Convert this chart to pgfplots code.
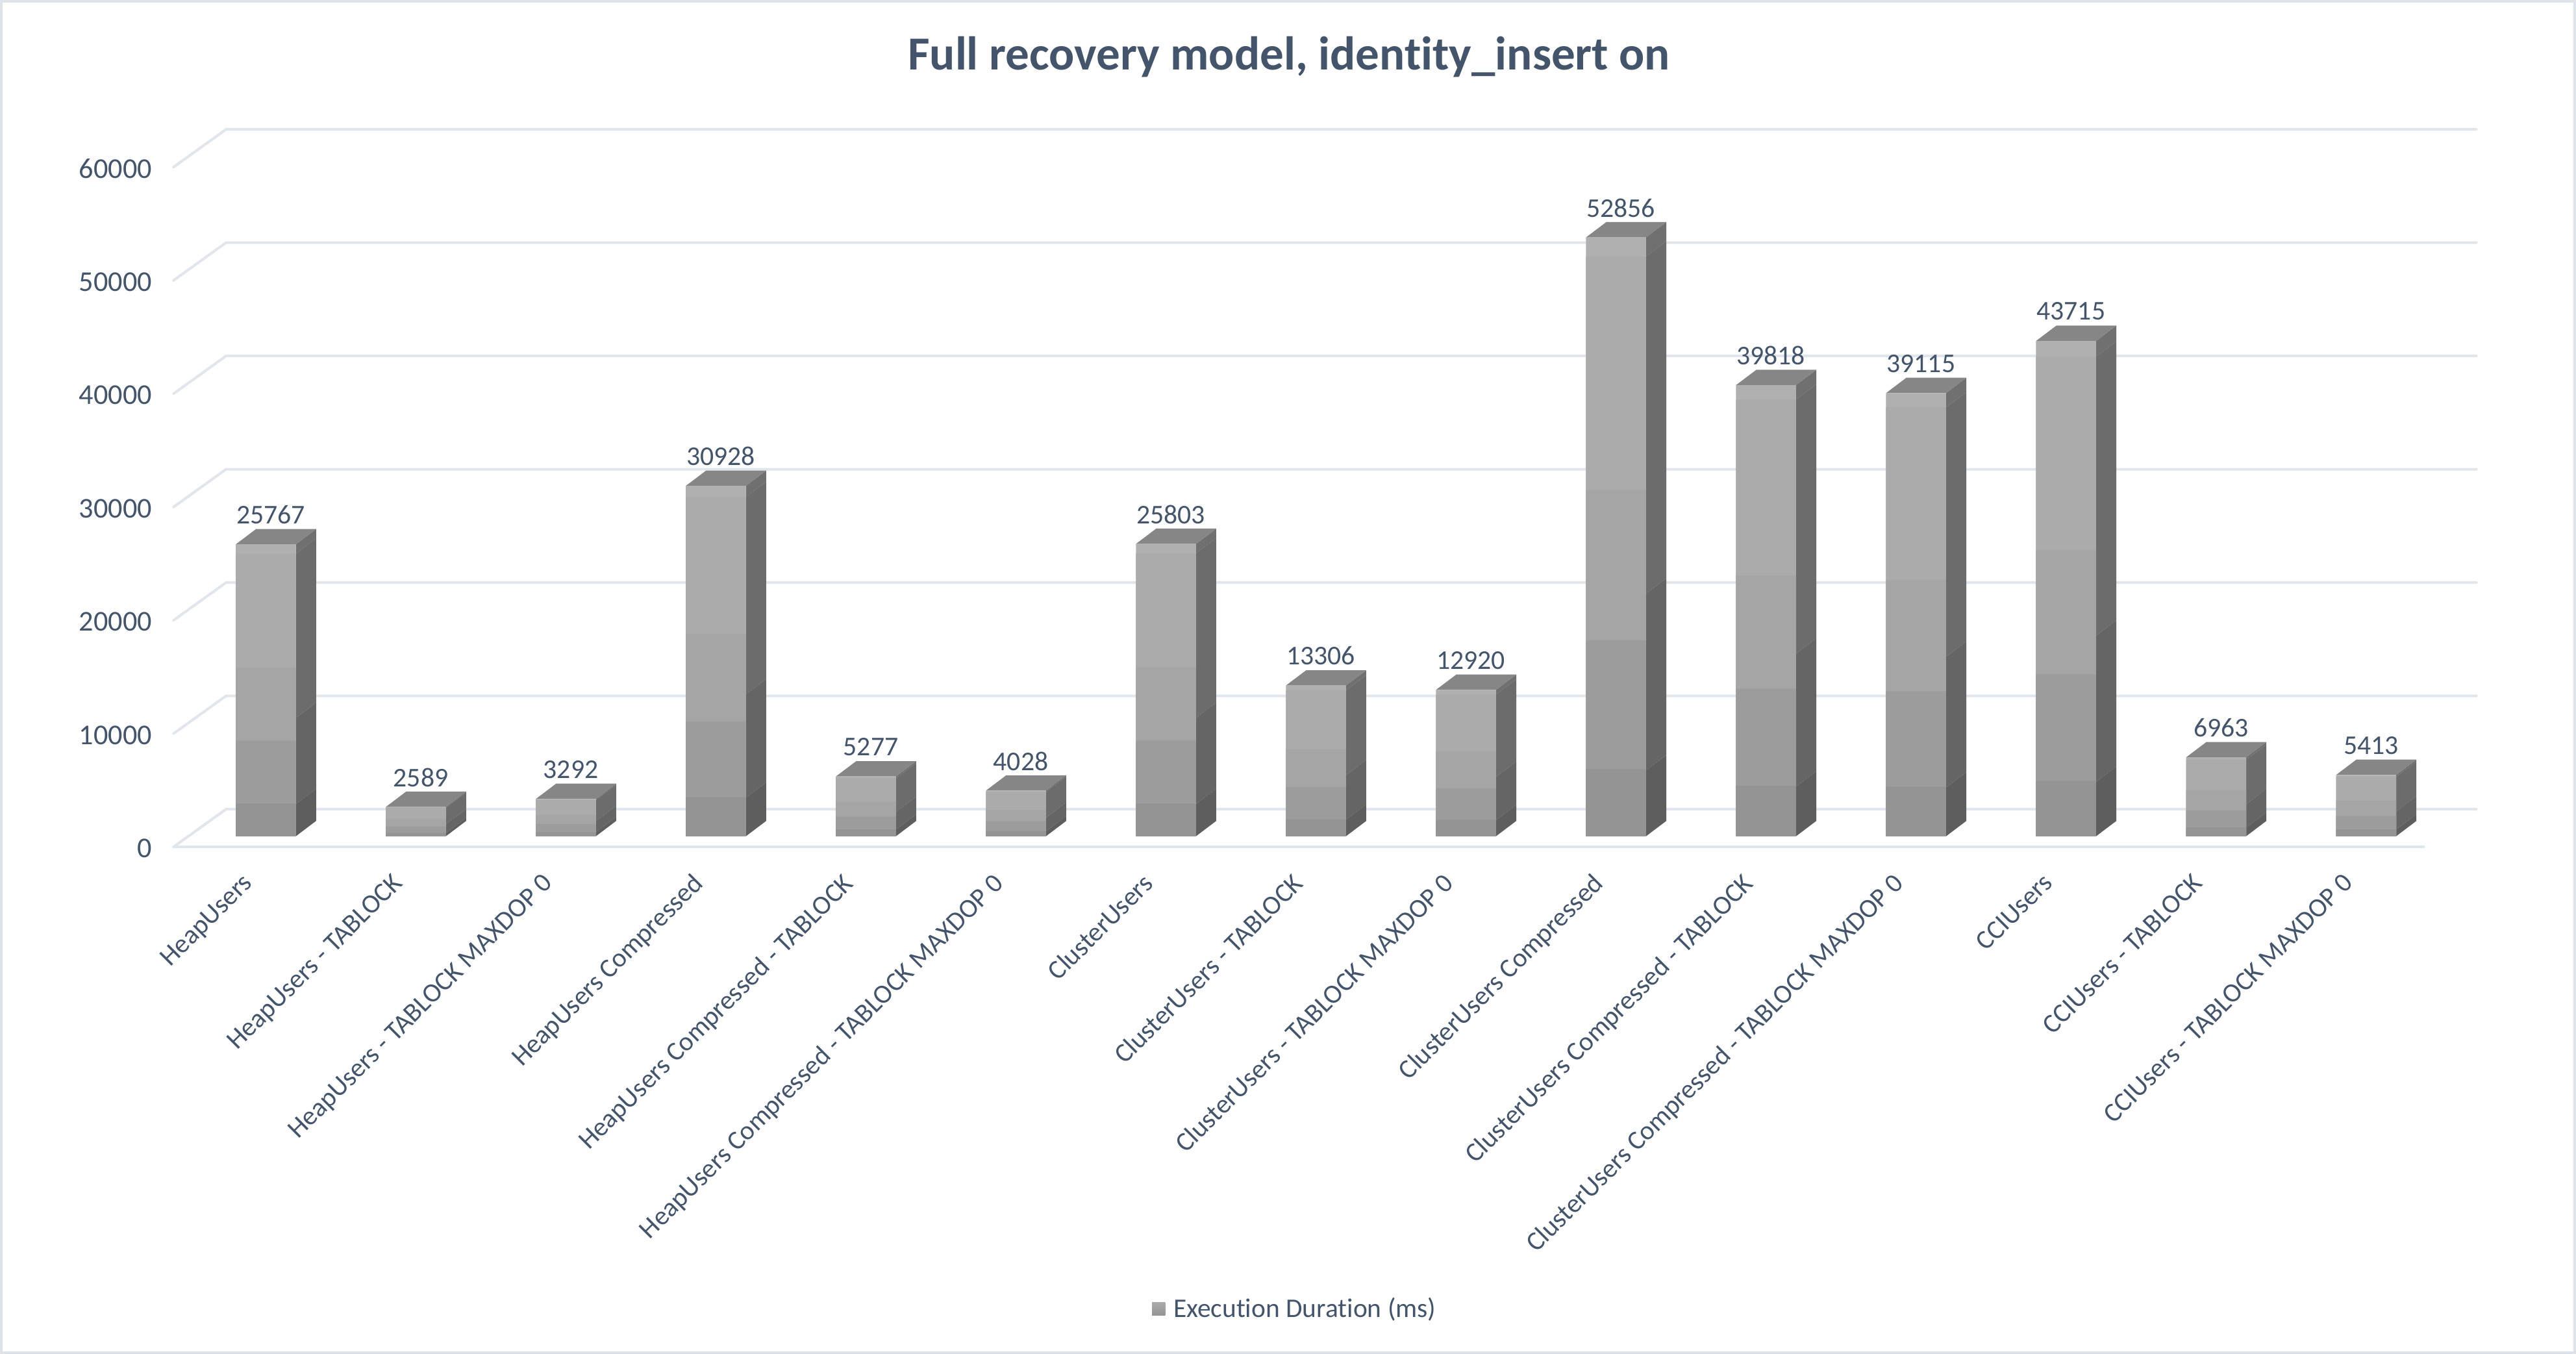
\documentclass[border=0pt]{standalone}
\usepackage{pgfplots}
\usepackage{pgfplotstable}
\usepackage{fontspec}
\setmainfont[Ligatures=NoCommon]{Carlito}
\pgfplotsset{compat=1.18}
\definecolor{txt}{HTML}{44546A}
\definecolor{gridc}{HTML}{E1E5EC}
\definecolor{framec}{HTML}{DEE3EA}
\definecolor{sidea}{HTML}{5E5E5E}
\definecolor{sideb}{HTML}{656565}
\definecolor{sidec}{HTML}{6C6C6C}
\definecolor{sided}{HTML}{707070}
\definecolor{topc}{HTML}{868686}
\definecolor{fronta}{HTML}{949494}
\definecolor{frontb}{HTML}{9C9C9C}
\definecolor{frontc}{HTML}{A5A5A5}
\definecolor{frontd}{HTML}{ABABAB}
\definecolor{fronte}{HTML}{B0B0B0}

% execution duration per category, x is the middle of the front face
\pgfplotstableread{
x v
0.615 25767
1.615 2589
2.615 3292
3.615 30928
4.615 5277
5.615 4028
6.615 25803
7.615 13306
8.615 12920
9.615 52856
10.615 39818
11.615 39115
12.615 43715
13.615 6963
14.615 5413
}\durations

% depth of a bar, in axis units
\def\bdx{0.135}
\def\bdy{1350}

\newcommand\sideface[4]{% x, from, to, colour
  \edef\xa{\fpeval{#1+0.2}}
  \edef\xb{\fpeval{#1+0.2+\bdx}}
  \edef\ya{\fpeval{#2}}
  \edef\yb{\fpeval{#3}}
  \edef\yc{\fpeval{#2+\bdy}}
  \edef\yd{\fpeval{#3+\bdy}}
  \addplot[fill=#4,draw=none,forget plot] coordinates {(\xa,\ya) (\xb,\yc) (\xb,\yd) (\xa,\yb)};
}

\begin{document}
\begin{tikzpicture}
\begin{axis}[
  scale only axis,
  width=1568pt,height=823.3pt,
  xmin=-1.1488,xmax=16.006,
  ymin=-45575,ymax=73700,
  clip=false,
  axis line style={color=framec,line width=1.5pt},
  major tick length=0pt,
  scaled y ticks=false,
  ytick={-940,9060,19060,29060,39060,49060,59060},
  yticklabels={0,10000,20000,30000,40000,50000,60000},
  yticklabel style={font=\fontsize{17.5}{18}\selectfont,color=txt,anchor=east,inner sep=0pt,xshift=92pt,yshift=-1pt},
  xtick={0.5,1.5,...,14.5},
  xticklabels={HeapUsers,HeapUsers - TABLOCK,HeapUsers - TABLOCK MAXDOP 0,HeapUsers Compressed,HeapUsers Compressed - TABLOCK,HeapUsers Compressed - TABLOCK MAXDOP 0,ClusterUsers,ClusterUsers - TABLOCK,ClusterUsers - TABLOCK MAXDOP 0,ClusterUsers Compressed,ClusterUsers Compressed - TABLOCK,ClusterUsers Compressed - TABLOCK MAXDOP 0,CCIUsers,CCIUsers - TABLOCK,CCIUsers - TABLOCK MAXDOP 0},
  xticklabel style={font=\fontsize{16.3}{18}\selectfont,color=txt,xshift=-4.5pt,yshift=293pt,rotate=45,anchor=north east,inner sep=0pt},
  /pgf/number format/.cd,fixed,set thousands separator={},assume math mode=true,
  /pgfplots/.cd,
  title={\textbf{Full recovery model, identity\_insert on}},
  title style={font=\fontsize{28.9}{30}\selectfont,color=txt,at={(axis description cs:0.5004,1)},anchor=center,yshift=-40pt},
  legend style={draw=none,fill=none,font=\fontsize{16.4}{18}\selectfont,text=txt,at={(axis description cs:0.5030,0.0325)},anchor=center,inner sep=0pt,legend cell align=left},
]
  % walls and floor
  \pgfplotsinvokeforeach{0,10000,20000,30000,40000,50000,60000}{
    \edef\ga{\fpeval{#1-940}}
    \edef\gb{\fpeval{#1+2390}}
    \addplot[color=gridc,line width=1.6pt,line cap=round,forget plot] coordinates {(0,\ga) (0.35,\gb) (15.35,\gb)};
  }
  \addplot[color=gridc,line width=1.6pt,line cap=round,forget plot] coordinates {(0,-940) (15,-940)};

  % side and top of each bar
  \pgfplotsinvokeforeach{0,...,14}{
    \pgfplotstablegetelem{#1}{x}\of\durations\edef\bx{\pgfplotsretval}
    \pgfplotstablegetelem{#1}{v}\of\durations\edef\bv{\pgfplotsretval}
    \edef\vb{\fpeval{\bv*0.11}}
    \edef\vc{\fpeval{\bv*0.405}}
    \edef\vd{\fpeval{\bv*0.968}}
    \sideface{\bx}{0}{\vb}{sidea}
    \sideface{\bx}{\vb}{\vc}{sideb}
    \sideface{\bx}{\vc}{\vd}{sidec}
    \sideface{\bx}{\vd}{\bv}{sided}
    \edef\xl{\fpeval{\bx-0.2}}
    \edef\xr{\fpeval{\bx+0.2}}
    \edef\xm{\fpeval{\bx-0.2+\bdx}}
    \edef\xn{\fpeval{\bx+0.2+\bdx}}
    \edef\vt{\fpeval{\bv+\bdy}}
    \addplot[fill=topc,draw=none,forget plot] coordinates {(\xl,\bv) (\xm,\vt) (\xn,\vt) (\xr,\bv)};
  }

  % front faces, light to dark from the top
  \addplot[ybar,bar shift=0pt,bar width=36.6pt,draw=none,fill=fronte,forget plot,
    nodes near coords,
    nodes near coords style={font=\fontsize{16.5}{18}\selectfont,color=txt,anchor=center,xshift=3pt,yshift=18pt}]
    table[x=x,y=v] {\durations};
  \addplot[ybar,bar shift=0pt,bar width=36.6pt,draw=none,fill=frontd,forget plot] table[x=x,y expr=\thisrow{v}*0.968] {\durations};
  \addplot[ybar,bar shift=0pt,bar width=36.6pt,draw=none,fill=frontc,forget plot] table[x=x,y expr=\thisrow{v}*0.578] {\durations};
  \addplot[ybar,bar shift=0pt,bar width=36.6pt,draw=none,fill=frontb,forget plot] table[x=x,y expr=\thisrow{v}*0.327] {\durations};
  \addplot[ybar,bar shift=0pt,bar width=36.6pt,draw=none,fill=fronta,forget plot] table[x=x,y expr=\thisrow{v}*0.112] {\durations};

  \addlegendimage{legend image code/.code={\fill[top color=frontd,bottom color=fronta,draw=none] (0pt,-4pt) rectangle (8pt,4pt);}}
  \addlegendentry{\hspace*{3pt}Execution Duration (ms)}
\end{axis}
\end{tikzpicture}
\end{document}
